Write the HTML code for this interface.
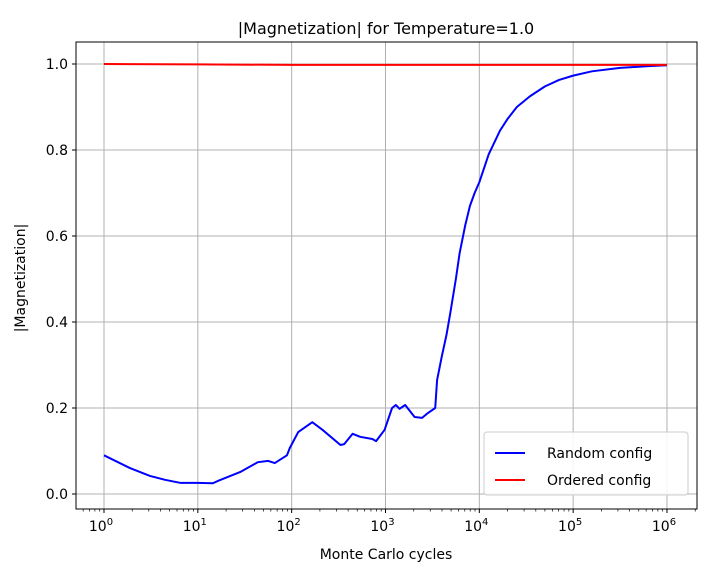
<!DOCTYPE html>
<html><head><meta charset="utf-8"><style>
body{margin:0;background:#fff;font-family:"Liberation Sans","DejaVu Sans",sans-serif}
svg text{font-family:"DejaVu Sans","Liberation Sans",sans-serif}
</style></head><body>
<svg id="chart" width="715" height="571" xmlns="http://www.w3.org/2000/svg">
<rect width="715" height="571" fill="#fff"/>
<text x="386" y="34" font-size="16" text-anchor="middle">|Magnetization| for Temperature=1.0</text>
<g id="grid"></g>
<g id="ticks"></g>
<g id="series"></g>
<rect x="76" y="42" width="621" height="467" fill="none" stroke="#000" stroke-width="1"/>
<text x="386" y="559" font-size="14" text-anchor="middle">Monte Carlo cycles</text>
<text transform="translate(25,278) rotate(-90)" font-size="14" text-anchor="middle">|Magnetization|</text>
<g>
<rect x="484" y="432" width="204" height="63" rx="3" fill="#fff" fill-opacity="0.85" stroke="#ccc"/>
<g>
<line x1="495" y1="453" x2="525" y2="453" stroke="#0000ff" stroke-width="2"/>
<text x="547" y="458" font-size="14">Random config</text></g>
<g>
<line x1="495" y1="480" x2="525" y2="480" stroke="#ff0000" stroke-width="2"/>
<text x="547" y="485" font-size="14">Ordered config</text></g>
</g>
</svg>
<script>
const randomLogX=[0,0.28,0.49,0.65,0.81,1.0,1.16,1.21,1.29,1.45,1.64,1.75,1.82,1.95,1.98,2.07,2.22,2.33,2.52,2.56,2.65,2.73,2.86,2.9,2.99,3.07,3.11,3.15,3.21,3.31,3.39,3.45,3.53,3.55,3.6,3.65,3.69,3.75,3.79,3.85,3.9,3.95,4.0,4.1,4.22,4.3,4.4,4.54,4.7,4.85,5.0,5.2,5.5,5.8,6.0];
const randomM=[0.09,0.06,0.042,0.033,0.026,0.026,0.025,0.03,0.037,0.051,0.074,0.077,0.072,0.09,0.107,0.144,0.167,0.149,0.114,0.116,0.14,0.133,0.128,0.123,0.149,0.2,0.207,0.198,0.207,0.179,0.177,0.188,0.2,0.265,0.32,0.37,0.42,0.5,0.56,0.625,0.67,0.7,0.725,0.79,0.845,0.872,0.9,0.925,0.948,0.963,0.973,0.983,0.991,0.995,0.997];
const orderedLogX=[0,1,2,3,4,5,6];
const orderedM=[1.0,0.999,0.998,0.998,0.998,0.998,0.998];
const yTicks=[0,0.2,0.4,0.6,0.8,1.0];
const yTickLabels=["0.0","0.2","0.4","0.6","0.8","1.0"];
const xDecades=[0,1,2,3,4,5,6];
const NS="http://www.w3.org/2000/svg";
const X=l=>104+l*93.83, Y=v=>494-v*430;
function mk(t,a,p){const e=document.createElementNS(NS,t);for(const k in a)e.setAttribute(k,a[k]);p.appendChild(e);return e;}
const grid=document.getElementById('grid'),ticks=document.getElementById('ticks'),ser=document.getElementById('series');
yTicks.forEach((v,i)=>{
 const g=mk('line',{x1:76,x2:697,y1:Y(v),y2:Y(v),stroke:'#b0b0b0','stroke-width':1},grid);
 
 mk('line',{x1:72,x2:76,y1:Y(v),y2:Y(v),stroke:'#000'},ticks);
 const t=mk('text',{x:68,y:Y(v)+5,'font-size':14,'text-anchor':'end'},ticks);t.textContent=yTickLabels[i];
 
});
for(let d=-1;d<=6;d++){for(let m=2;m<10;m++){const px=X(d+Math.log10(m));if(px>76&&px<697)mk('line',{x1:px,x2:px,y1:509,y2:511.5,stroke:'#000','stroke-width':0.7},ticks);}}
xDecades.forEach(d=>{
 const g=mk('line',{x1:X(d),x2:X(d),y1:42,y2:509,stroke:'#b0b0b0','stroke-width':1},grid);
 
 mk('line',{x1:X(d),x2:X(d),y1:509,y2:513,stroke:'#000'},ticks);
 const t=mk('text',{x:X(d)-3,y:531,'font-size':14,'text-anchor':'middle'},ticks);
 t.textContent='10';const s=mk('tspan',{dy:-6,'font-size':10},t);s.textContent=d;
 
});
function line(xs,ys,c,name){const p=mk('polyline',{points:xs.map((x,i)=>X(x)+','+Y(ys[i])).join(' '),fill:'none',stroke:c,'stroke-width':2,'stroke-linejoin':'round'},ser);
 }
line(randomLogX,randomM,'#0000ff','random-config-line');
line(orderedLogX,orderedM,'#ff0000','ordered-config-line');
</script>
</body></html>
